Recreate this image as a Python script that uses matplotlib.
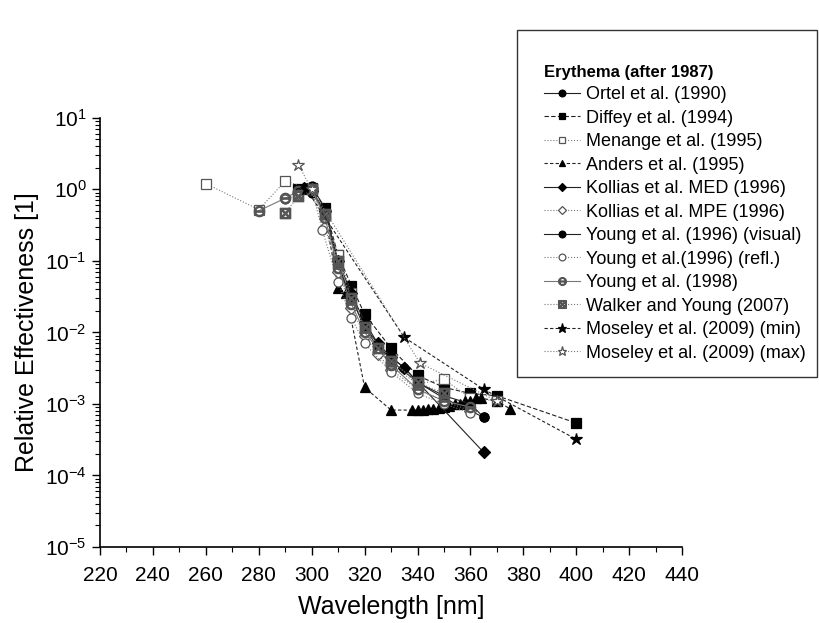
import matplotlib
matplotlib.use("Agg")
import matplotlib.pyplot as plt
from matplotlib.patches import Rectangle
from matplotlib.ticker import LogLocator, MultipleLocator, NullFormatter, FixedLocator

plt.rcParams['font.family'] = ['Liberation Sans', 'DejaVu Sans']

# ======== Data ========
ortel_x = [297, 300, 305, 310, 315, 320, 325, 330, 335, 340, 350, 365]
ortel_y = [1.0, 0.9, 0.5, 0.08, 0.03, 0.012, 0.006, 0.0045, 0.0032, 0.002, 0.0012, 0.00065]

diffey_x = [295, 300, 305, 310, 315, 320, 330, 340, 350, 360, 370, 400]
diffey_y = [1.0, 1.05, 0.55, 0.12, 0.045, 0.018, 0.006, 0.0025, 0.0017, 0.0014, 0.0013, 0.00054]

menange_x = [260, 280, 290, 300, 305, 310, 315, 320, 330, 340, 350, 360, 370]
menange_y = [1.2, 0.52, 1.3, 1.0, 0.45, 0.12, 0.035, 0.011, 0.0035, 0.0019, 0.0022, 0.0012, 0.0011]

anders_x = [298, 300, 305, 310, 313, 320, 330, 338, 340, 342, 344, 346, 348, 350,
            352, 354, 356, 358, 360, 362, 364, 370, 375]
anders_y = [1.0, 1.0, 0.45, 0.042, 0.035, 0.0017, 0.00082, 0.00082, 0.00082, 0.00083,
            0.00085, 0.00085, 0.00088, 0.0009, 0.00095, 0.001, 0.001, 0.0011, 0.0011,
            0.0012, 0.0012, 0.0011, 0.00085]

kollias_med_x = [297, 300, 305, 310, 315, 320, 325, 330, 335, 365]
kollias_med_y = [1.05, 0.95, 0.5, 0.1, 0.035, 0.014, 0.007, 0.0045, 0.0032, 0.00021]

kollias_mpe_x = [295, 300, 305, 310, 315, 320, 325, 330, 340, 350, 360]
kollias_mpe_y = [0.9, 1.0, 0.3, 0.07, 0.022, 0.009, 0.005, 0.003, 0.0016, 0.0011, 0.0008]

young_vis_x = [295, 300, 305, 310, 315, 320, 330, 340, 350, 360, 365]
young_vis_y = [1.0, 1.1, 0.55, 0.09, 0.03, 0.012, 0.004, 0.002, 0.0013, 0.001, 0.00065]

young_refl_x = [290, 295, 300, 304, 310, 315, 320, 330, 340, 350, 360]
young_refl_y = [0.72, 0.85, 1.0, 0.27, 0.05, 0.016, 0.007, 0.0028, 0.0014, 0.001, 0.00075]

young98_x = [280, 290, 295, 300, 305, 310, 315, 320, 330, 340, 350, 360]
young98_y = [0.5, 0.75, 0.95, 1.0, 0.4, 0.08, 0.025, 0.01, 0.0035, 0.0016, 0.0011, 0.0009]

walker_x = [290, 295, 300, 305, 310, 315, 320, 325, 330, 340, 350]
walker_y = [0.47, 0.8, 1.0, 0.45, 0.1, 0.03, 0.012, 0.006, 0.004, 0.002, 0.0014]

moseley_min_x = [298, 335, 365, 400]
moseley_min_y = [1.0, 0.0085, 0.0016, 0.00032]

moseley_max_x = [295, 300, 341, 370]
moseley_max_y = [2.2, 1.0, 0.0037, 0.0011]

labels = ["Ortel et al. (1990)", "Diffey et al. (1994)", "Menange et al. (1995)",
          "Anders et al. (1995)", "Kollias et al. MED (1996)", "Kollias et al. MPE (1996)",
          "Young et al. (1996) (visual)", "Young et al.(1996) (refl.)", "Young et al. (1998)",
          "Walker and Young (2007)", "Moseley et al. (2009) (min)", "Moseley et al. (2009) (max)"]

y_major = [1e-5, 1e-4, 1e-3, 1e-2, 1e-1, 1e0, 1e1]

# ======== Styles: (marker, fill, line colour, linestyle) ========
styles = [
    ("o", "black", "#222222", "-"),
    ("s", "black", "#222222", (0, (4, 2))),
    ("s", "white", "#777777", ":"),
    ("^", "black", "#222222", (0, (3, 2))),
    ("D", "black", "#222222", "-"),
    ("D", "white", "#777777", ":"),
    ("o", "black", "#222222", "-"),
    ("o", "white", "#777777", ":"),
    ("$\\ominus$", "#777777", "#777777", "-"),
    ("$\\boxtimes$", "#777777", "#777777", ":"),
    ("*", "black", "#222222", (0, (3, 2))),
    ("*", "white", "#777777", ":"),
]

series = [(ortel_x, ortel_y), (diffey_x, diffey_y), (menange_x, menange_y),
          (anders_x, anders_y), (kollias_med_x, kollias_med_y),
          (kollias_mpe_x, kollias_mpe_y), (young_vis_x, young_vis_y),
          (young_refl_x, young_refl_y), (young98_x, young98_y),
          (walker_x, walker_y), (moseley_min_x, moseley_min_y),
          (moseley_max_x, moseley_max_y)]

fig = plt.figure(figsize=(8.19, 6.23), dpi=100)
ax = fig.add_axes([0.122, 0.122, 0.711, 0.689])

handles = []
for (x, y), (m, fc, lc, ls), lab in zip(series, styles, labels):
    ms = 7.5 if m.startswith("$") else (9 if m == "*" else 6.5)
    if m == "D":
        ms = 6
    h, = ax.plot(x, y, linestyle=ls, color=lc, linewidth=0.8, marker=m,
                 markersize=ms, markerfacecolor=fc,
                 markeredgecolor="black" if fc == "black" else "#555555",
                 markeredgewidth=0.9, label=lab)
    handles.append(h)

ax.set_yscale("log")
ax.set_xlim(220, 440)
ax.set_ylim(1e-5, 1e1)
ax.xaxis.set_major_locator(MultipleLocator(20))
ax.xaxis.set_minor_locator(MultipleLocator(10))
ax.yaxis.set_major_locator(FixedLocator(y_major))
ax.yaxis.set_minor_locator(LogLocator(base=10, subs=range(2, 10), numticks=10))
ax.yaxis.set_minor_formatter(NullFormatter())

ax.spines["top"].set_visible(False)
ax.spines["right"].set_visible(False)
ax.spines["left"].set_linewidth(1.2)
ax.spines["bottom"].set_linewidth(1.2)
ax.tick_params(which="major", direction="out", length=6, width=1.0, labelsize=15)
ax.tick_params(axis="x", which="major", pad=8)
ax.tick_params(which="minor", direction="out", length=3.5, width=0.8)

ax.set_xlabel("Wavelength [nm]", fontsize=18, labelpad=7)
ax.set_ylabel("Relative Effectiveness [1]", fontsize=18, labelpad=4)

# legend box drawn separately (it is taller than the legend content)
fig.patches.append(Rectangle((0.631, 0.395), 0.366, 0.557, transform=fig.transFigure,
                             fill=False, edgecolor="#333333", linewidth=1.0))

leg = fig.legend(handles=handles, loc="upper left", bbox_to_anchor=(0.66, 0.902),
                 frameon=False, fontsize=13, title="Erythema (after 1987)",
                 title_fontproperties={"weight": "bold", "size": 12},
                 alignment="left", handlelength=2.0, handletextpad=0.3,
                 labelspacing=0.36, borderpad=0.2, borderaxespad=0,
                 markerscale=0.75)

fig.savefig("out.png", dpi=100)
